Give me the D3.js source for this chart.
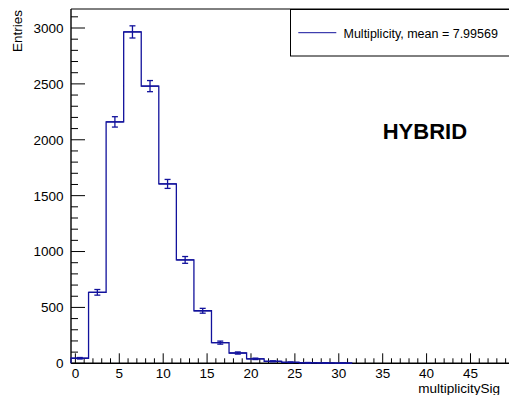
<!DOCTYPE html>
<html>
<head>
<meta charset="utf-8">
<script src="https://cdn.jsdelivr.net/npm/d3@7"></script>
<style>
  html, body { margin: 0; padding: 0; background: #fff; }
  svg { display: block; }
  text { font-family: "Liberation Sans", Arial, Helvetica, sans-serif; fill: #000; }
</style>
</head>
<body>
<script>
// Histogram of signal multiplicity: 25 bins of width 2 from -0.5 to 49.5
const binEdges = [-0.5, 1.5, 3.5, 5.5, 7.5, 9.5, 11.5, 13.5, 15.5, 17.5, 19.5, 21.5, 23.5,
                  25.5, 27.5, 29.5, 31.5, 33.5, 35.5, 37.5, 39.5, 41.5, 43.5, 45.5, 47.5, 49.5];
const binCounts = [45, 635, 2160, 2965, 2480, 1605, 925, 470, 185, 92, 40, 18, 9,
                   5, 3, 2, 0, 0, 0, 0, 0, 0, 0, 0, 0];
const xTickValues = [0, 5, 10, 15, 20, 25, 30, 35, 40, 45];
const yTickValues = [0, 500, 1000, 1500, 2000, 2500, 3000];
const legendLabel = "Multiplicity, mean = 7.99569";
const tagLabel = "HYBRID";
const xTitle = "multiplicitySig";
const yTitle = "Entries";

const W = 509, H = 395;
const histColor = "#12129c";

const svg = d3.select("body").append("svg")
  .attr("width", W).attr("height", H);

const x = d3.scaleLinear().domain([-0.5, 49.5]).range([71, 510]);
const y = d3.scaleLinear().domain([0, 3170]).range([363.3, 9]);

const axes = svg.append("g");

// frame: left and top edges (right edge falls outside the canvas)
axes.append("line").attr("x1", x(-0.5)).attr("x2", x(-0.5)).attr("y1", y(3170)).attr("y2", y(0))
  .attr("stroke", "#000").attr("stroke-width", 1.4);
axes.append("line").attr("x1", x(-0.5)).attr("x2", 512).attr("y1", y(3170)).attr("y2", y(3170))
  .attr("stroke", "#000").attr("stroke-width", 1);
axes.append("line").attr("x1", x(-0.5)).attr("x2", 512).attr("y1", y(0)).attr("y2", y(0))
  .attr("stroke", "#000").attr("stroke-width", 1.4);

// y axis: ticks point into the plot
const yMinor = d3.range(0, 3170, 100).filter(v => v % 500 !== 0);
axes.selectAll(".yminor").data(yMinor).enter().append("line")
  .attr("x1", x(-0.5)).attr("x2", x(-0.5) + 7)
  .attr("y1", d => y(d)).attr("y2", d => y(d))
  .attr("stroke", "#000").attr("stroke-width", 1);
axes.selectAll(".ymajor").data(yTickValues).enter().append("line")
  .attr("x1", x(-0.5)).attr("x2", x(-0.5) + 14)
  .attr("y1", d => y(d)).attr("y2", d => y(d))
  .attr("stroke", "#000").attr("stroke-width", 1);
axes.selectAll(".ylab").data(yTickValues).enter().append("text")
  .attr("x", 63.5).attr("y", d => y(d) + 4.9)
  .attr("text-anchor", "end").attr("font-size", 13.5)
  .text(d => d);

// x axis: ticks point up into the plot
const xMinor = d3.range(1, 50, 1).filter(v => v % 5 !== 0);
axes.selectAll(".xminor").data(xMinor).enter().append("line")
  .attr("x1", d => x(d)).attr("x2", d => x(d))
  .attr("y1", y(0)).attr("y2", y(0) - 5)
  .attr("stroke", "#000").attr("stroke-width", 1);
axes.selectAll(".xmajor").data(xTickValues).enter().append("line")
  .attr("x1", d => x(d)).attr("x2", d => x(d))
  .attr("y1", y(0)).attr("y2", y(0) - 10)
  .attr("stroke", "#000").attr("stroke-width", 1);
axes.selectAll(".xlab").data(xTickValues).enter().append("text")
  .attr("x", d => x(d)).attr("y", 378.3)
  .attr("text-anchor", "middle").attr("font-size", 13.5)
  .text(d => d);

// axis titles
svg.append("text")
  .attr("transform", "translate(21.8,10) rotate(-90)")
  .attr("text-anchor", "end").attr("font-size", 13.5)
  .text(yTitle);
svg.append("text")
  .attr("x", 418.3).attr("y", 392.5)
  .attr("font-size", 13.5)
  .text(xTitle);

// histogram outline: step line through every bin up to the last filled one
const lastFilled = d3.max(binCounts.map((c, i) => c > 0 ? i : -1));
const pts = [[x(binEdges[0]), y(0)]];
for (let i = 0; i <= lastFilled; i++) {
  pts.push([x(binEdges[i]), y(binCounts[i])]);
  pts.push([x(binEdges[i + 1]), y(binCounts[i])]);
}
pts.push([x(binEdges[lastFilled + 1]), y(0)]);
svg.append("path")
  .attr("d", d3.line()(pts))
  .attr("fill", "none").attr("stroke", histColor).attr("stroke-width", 1.3);

// statistical error bars (sqrt N) at bin centres
const bins = binCounts.map((c, i) => ({
  c, lo: binEdges[i], hi: binEdges[i + 1], mid: (binEdges[i] + binEdges[i + 1]) / 2
})).filter(b => b.c > 0);
const eb = svg.append("g").attr("stroke", histColor).attr("stroke-width", 1.3);
bins.forEach(b => {
  const e = Math.sqrt(b.c);
  const cx = x(b.mid);
  eb.append("line").attr("x1", cx).attr("x2", cx)
    .attr("y1", y(b.c - e)).attr("y2", y(b.c + e));
  [b.c - e, b.c + e].forEach(v => {
    eb.append("line").attr("x1", cx - 3).attr("x2", cx + 3)
      .attr("y1", y(v)).attr("y2", y(v));
  });
  eb.append("line").attr("x1", x(b.lo)).attr("x2", x(b.hi))
    .attr("y1", y(b.c)).attr("y2", y(b.c));
});

// legend box
const lg = svg.append("g");
lg.append("rect")
  .attr("x", 290.5).attr("y", 9.5).attr("width", 230).attr("height", 46.5)
  .attr("fill", "#fff").attr("stroke", "#000").attr("stroke-width", 1);
lg.append("line")
  .attr("x1", 298.3).attr("x2", 336.3).attr("y1", 32.7).attr("y2", 32.7)
  .attr("stroke", histColor).attr("stroke-width", 1);
lg.append("text")
  .attr("x", 343.5).attr("y", 38.3)
  .attr("font-size", 12.5)
  .text(legendLabel);

// label
svg.append("text")
  .attr("x", 382.7).attr("y", 139.3)
  .attr("font-size", 22).attr("font-weight", "bold")
  .text(tagLabel);
</script>
</body>
</html>
